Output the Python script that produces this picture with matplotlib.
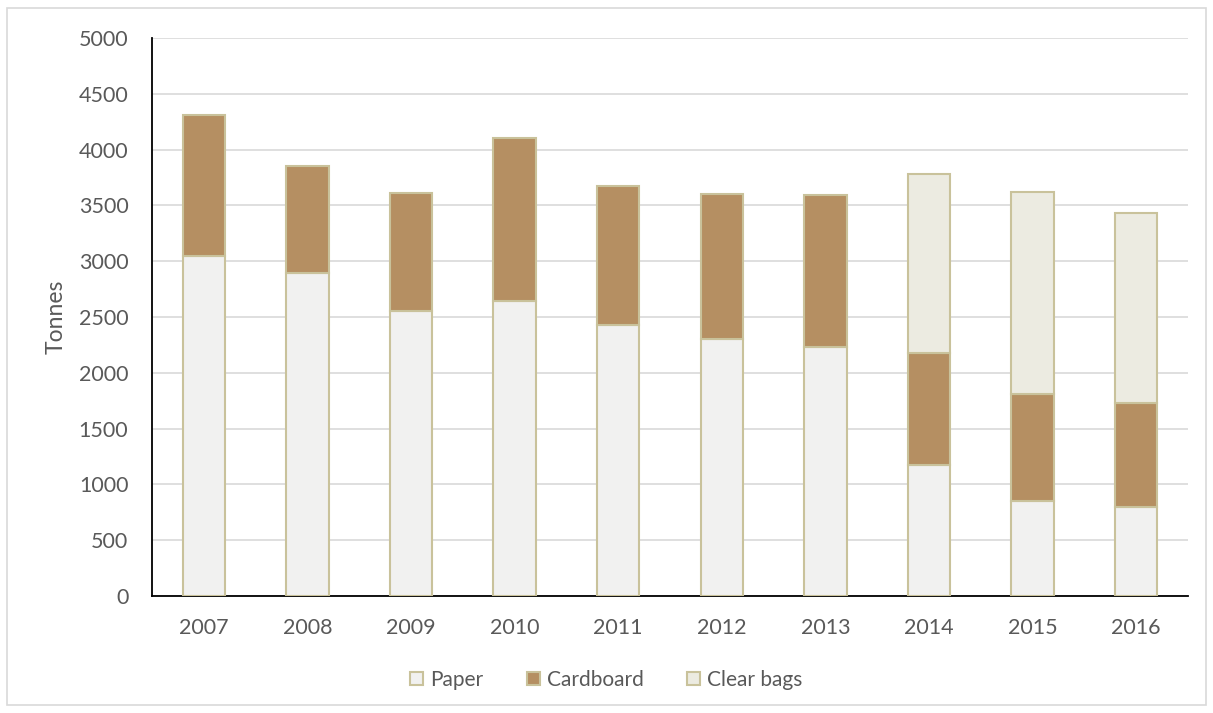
import numpy as np
import matplotlib.pyplot as plt
from matplotlib.patches import Rectangle

# --- data (tonnes) ---
years = ['2007', '2008', '2009', '2010', '2011', '2012', '2013', '2014', '2015', '2016']
paper = [3050, 2890, 2550, 2640, 2430, 2300, 2230, 1170, 850, 800]
cardboard = [1260, 960, 1060, 1460, 1240, 1300, 1360, 1010, 960, 930]
clear_bags = [0, 0, 0, 0, 0, 0, 0, 1600, 1810, 1700]

plt.rcParams['font.family'] = ['Lato', 'DejaVu Sans']
txt = '#595959'
edge = '#c9c29b'

fig = plt.figure(figsize=(12.13, 7.13), dpi=100)
ax = fig.add_axes([0.1253, 0.1641, 0.8541, 0.7826])

x = np.arange(len(years))
w = 0.41
paper = np.array(paper)
cardboard = np.array(cardboard)
clear_bags = np.array(clear_bags)

ax.bar(x, paper, w, color='#f1f1f0', edgecolor=edge, linewidth=1.5, label='Paper', zorder=3)
ax.bar(x, cardboard, w, bottom=paper, color='#b58f62', edgecolor=edge, linewidth=1.5,
       label='Cardboard', zorder=3)
mask = clear_bags > 0
ax.bar(x[mask], clear_bags[mask], w, bottom=(paper + cardboard)[mask], color='#ecebe1',
       edgecolor=edge, linewidth=1.5, label='Clear bags', zorder=3)

ax.set_xlim(-0.5, len(years) - 0.5)
ax.set_ylim(0, 5000)
ax.set_yticks(np.arange(0, 5001, 500))
ax.set_xticks(x)
ax.set_xticklabels(years)
ax.tick_params(axis='both', length=0, labelsize=15.5, labelcolor=txt)
ax.tick_params(axis='y', pad=17)
ax.tick_params(axis='x', pad=16)
ax.grid(axis='y', color='#d9d9d9', linewidth=1.2, zorder=0)
ax.set_axisbelow(True)
for s in ['top', 'right']:
    ax.spines[s].set_visible(False)
ax.spines['left'].set_color('black')
ax.spines['bottom'].set_color('black')
ax.spines['left'].set_linewidth(1.3)
ax.spines['bottom'].set_linewidth(1.3)
ax.set_ylabel('Tonnes', fontsize=16.5, color=txt, labelpad=9)

fig.legend(loc='center', bbox_to_anchor=(0.5, 0.046), ncol=3, frameon=False,
           fontsize=15, labelcolor=txt, handlelength=0.6, handleheight=0.6,
           handletextpad=0.35, columnspacing=2.1)

# outer chart border
fig.patches.append(Rectangle((0.006, 0.011), 0.988, 0.978, transform=fig.transFigure,
                             fill=False, edgecolor='#d9d9d9', linewidth=1.2))

fig.savefig('out.png', dpi=100)
